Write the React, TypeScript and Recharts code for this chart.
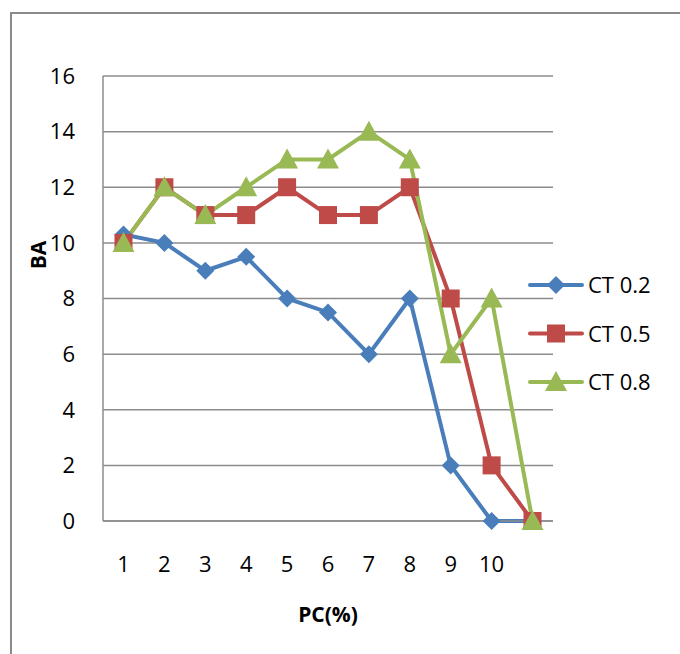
import React from 'react';
import { LineChart, Line, XAxis, YAxis, CartesianGrid, Legend } from 'recharts';

const pcLabels = ['1', '2', '3', '4', '5', '6', '7', '8', '9', '10', ''];
const ct02 = [10.3, 10, 9, 9.5, 8, 7.5, 6, 8, 2, 0, 0];
const ct05 = [10, 12, 11, 11, 12, 11, 11, 12, 8, 2, 0];
const ct08 = [10, 12, 11, 12, 13, 13, 14, 13, 6, 8, 0];
const yTicks = [0, 2, 4, 6, 8, 10, 12, 14, 16];

const BLUE = '#4A7EBB';
const RED = '#BE4B48';
const GREEN = '#98B954';
const GRID = '#8C8C8C';
const FONT = '"Open Sans", sans-serif';

const data = pcLabels.map((pc, i) => ({
  pc,
  ct02: ct02[i],
  ct05: ct05[i],
  ct08: ct08[i],
}));

type Shape = 'diamond' | 'square' | 'triangle';

function marker(shape: Shape, x: number, y: number, color: string, key?: React.Key) {
  if (shape === 'diamond') {
    const r = 9;
    return <polygon key={key} points={`${x},${y - r} ${x + r},${y} ${x},${y + r} ${x - r},${y}`} fill={color} />;
  }
  if (shape === 'square') {
    const h = 9;
    return <rect key={key} x={x - h} y={y - h} width={h * 2} height={h * 2} fill={color} />;
  }
  const w = 11;
  return <polygon key={key} points={`${x},${y - 11} ${x + w},${y + 9} ${x - w},${y + 9}`} fill={color} />;
}

const series = [
  { key: 'ct02', name: 'CT 0.2', color: BLUE, shape: 'diamond' as Shape },
  { key: 'ct05', name: 'CT 0.5', color: RED, shape: 'square' as Shape },
  { key: 'ct08', name: 'CT 0.8', color: GREEN, shape: 'triangle' as Shape },
];

const LegendBox = () => (
  <svg width={150} height={130}>
    {series.map((s, i) => {
      const y = 17 + i * 48.5;
      return (
        <g key={s.key}>
          <line x1={8} x2={60} y1={y} y2={y} stroke={s.color} strokeWidth={4} strokeLinecap="round" />
          {marker(s.shape, 34, y, s.color)}
          <text x={66} y={y + 8} fontSize={22} fontFamily={FONT} fill="#000">
            {s.name}
          </text>
        </g>
      );
    })}
  </svg>
);

// rotated axis title, sits a little above the plot's middle
const BaTitle = () => (
  <text
    x={38}
    y={255}
    transform="rotate(-90 38 255)"
    textAnchor="middle"
    dominantBaseline="central"
    fontSize={21}
    fontWeight="bold"
    fontFamily={FONT}
    fill="#000"
  >
    BA
  </text>
);

export default function App() {
  return (
    <div style={{ position: 'fixed', left: 0, top: 0, width: 680, height: 654, background: '#fff', overflow: 'hidden' }}>
      <div
        style={{
          position: 'absolute',
          left: 10,
          top: 12,
          width: 700,
          height: 700,
          borderLeft: '2px solid #8a8a8a',
          borderTop: '2px solid #8a8a8a',
        }}
      />
      <div style={{ position: 'absolute', left: 0, top: 0 }}>
        <LineChart width={680} height={654} data={data} margin={{ top: 76, right: 127, left: 0, bottom: 73 }}>
          <CartesianGrid vertical={false} stroke={GRID} strokeWidth={1.5} />
          <XAxis
            dataKey="pc"
            height={60}
            padding={{ left: 20.5, right: 20.5 }}
            tickLine={false}
            axisLine={{ stroke: GRID, strokeWidth: 1.5 }}
            tickMargin={29}
            tick={{ fontSize: 22, fontFamily: FONT, fill: '#000' }}
            label={{ value: 'PC(%)', position: 'insideBottom', offset: -41, fontSize: 21, fontWeight: 'bold', fontFamily: FONT, fill: '#000' }}
          />
          <YAxis
            width={103}
            domain={[0, 16]}
            ticks={yTicks}
            tickLine={false}
            axisLine={{ stroke: GRID, strokeWidth: 1.5 }}
            tickMargin={22}
            tick={{ fontSize: 22, fontFamily: FONT, fill: '#000' }}
            label={{ value: 'BA', content: () => <BaTitle /> }}
          />
          <Legend
            layout="vertical"
            align="center"
            verticalAlign="middle"
            wrapperStyle={{ left: 522, top: 268, width: 150 }}
            content={() => <LegendBox />}
          />
          {series.map((s) => (
            <Line
              key={s.key}
              dataKey={s.key}
              name={s.name}
              type="linear"
              stroke={s.color}
              strokeWidth={4}
              isAnimationActive={false}
              dot={(p: any) => marker(s.shape, p.cx, p.cy, s.color, `${s.key}-${p.index}`)}
              activeDot={false}
            />
          ))}
        </LineChart>
      </div>
    </div>
  );
}
